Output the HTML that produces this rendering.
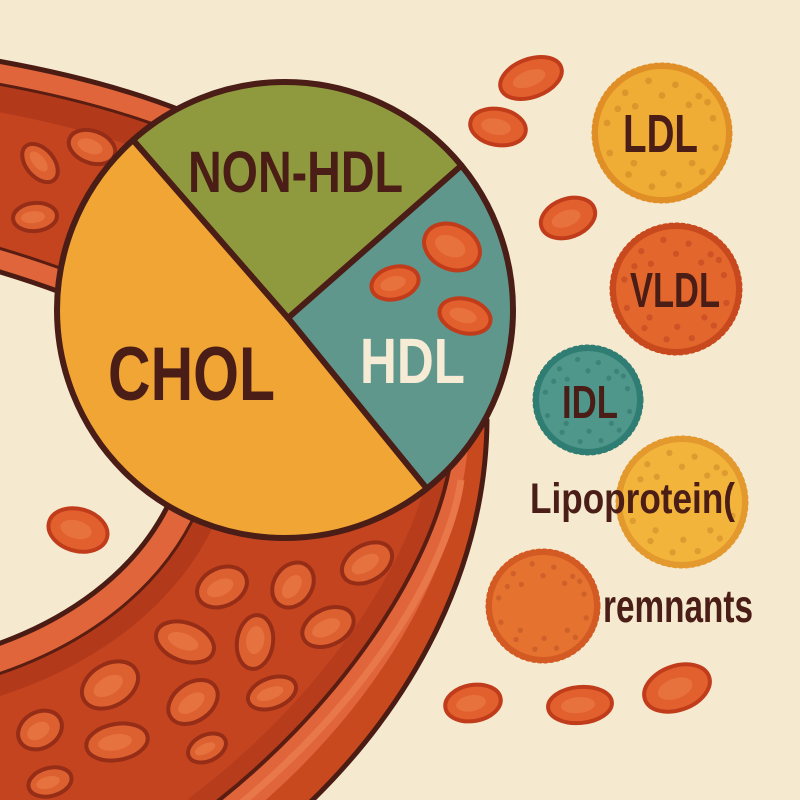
<!DOCTYPE html>
<html>
<head>
<meta charset="utf-8">
<style>
html,body{margin:0;padding:0;background:#f5e9cf;}
svg{display:block;}
text{font-family:"Liberation Sans",Arial,sans-serif;font-weight:bold;}
</style>
</head>
<body>
<svg width="800" height="800" viewBox="0 0 800 800" xmlns="http://www.w3.org/2000/svg">
<defs>
  <clipPath id="vc">
    <path d="M -20,58 Q 100,78 185,112 L 420,300 L 487,420 C 486,560 420,700 300,812 L -20,812 L -20,650 C 60,625 140,575 175,490 C 200,400 150,310 60,292 Q 25,279 -20,266 Z"/>
  </clipPath>
  <g id="dots">
    <circle cx="-55" cy="-60" r="5"/><circle cx="-20" cy="-78" r="5"/><circle cx="20" cy="-72" r="5"/>
    <circle cx="55" cy="-55" r="5"/><circle cx="76" cy="-22" r="5"/><circle cx="80" cy="22" r="5"/>
    <circle cx="60" cy="58" r="5"/><circle cx="25" cy="78" r="5"/><circle cx="-15" cy="80" r="5"/>
    <circle cx="-50" cy="62" r="5"/><circle cx="-78" cy="30" r="5"/><circle cx="-82" cy="-15" r="5"/>
    <circle cx="-40" cy="-40" r="5"/><circle cx="40" cy="-42" r="5"/><circle cx="45" cy="45" r="5"/>
    <circle cx="-42" cy="45" r="5"/><circle cx="0" cy="-56" r="5"/><circle cx="2" cy="60" r="5"/>
    <circle cx="-66" cy="-36" r="5"/><circle cx="68" cy="-46" r="5"/>
  </g>
</defs>

<rect width="800" height="800" fill="#f5e9cf"/>

<!-- ===== Blood vessel ===== -->
<path d="M -20,58 Q 100,78 185,112 L 420,300 L 487,420 C 486,560 420,700 300,812 L -20,812 L -20,650 C 60,625 140,575 175,490 C 200,400 150,310 60,292 Q 25,279 -20,266 Z" fill="#c4441f"/>
<g clip-path="url(#vc)">
  <!-- shading -->
  <path d="M -20,58 Q 100,78 185,112 L 300,200" fill="none" stroke="#b3391b" stroke-width="100"/>
  <path d="M -20,650 C 60,625 140,575 175,490" fill="none" stroke="#b3391b" stroke-width="100"/>
  <path d="M 449,470 C 430,570 340,710 200,815" fill="none" stroke="#b63c1c" stroke-width="40"/>

  <!-- RBCs inside vessel -->
  <g stroke="#962d17" stroke-width="4" fill="#dd6130">
    <g transform="translate(40,163) rotate(50)"><ellipse rx="22" ry="14"/><ellipse rx="12" ry="6" cx="-2" fill="#e6733f" stroke="none"/></g>
    <g transform="translate(92,147) rotate(20)"><ellipse rx="24" ry="16"/><ellipse rx="13" ry="7" cx="-2" fill="#e6733f" stroke="none"/></g>
    <g transform="translate(35,217) rotate(-5)"><ellipse rx="22" ry="14"/><ellipse rx="12" ry="6" cx="-2" fill="#e6733f" stroke="none"/></g>
    <g transform="translate(222,587) rotate(-25)"><ellipse rx="26" ry="19"/><ellipse rx="14" ry="8" cx="-2" fill="#e6733f" stroke="none"/></g>
    <g transform="translate(293,585) rotate(-55)"><ellipse rx="24" ry="19"/><ellipse rx="13" ry="8" cx="-2" fill="#e6733f" stroke="none"/></g>
    <g transform="translate(367,563) rotate(-30)"><ellipse rx="27" ry="18"/><ellipse rx="15" ry="8" cx="-2" fill="#e6733f" stroke="none"/></g>
    <g transform="translate(185,642) rotate(20)"><ellipse rx="30" ry="19"/><ellipse rx="16" ry="8" cx="-2" fill="#e6733f" stroke="none"/></g>
    <g transform="translate(255,642) rotate(8)"><ellipse rx="18" ry="27"/><ellipse rx="9" ry="14" cy="-2" fill="#e6733f" stroke="none"/></g>
    <g transform="translate(328,627) rotate(-25)"><ellipse rx="27" ry="18"/><ellipse rx="15" ry="8" cx="-2" fill="#e6733f" stroke="none"/></g>
    <g transform="translate(110,685) rotate(-30)"><ellipse rx="30" ry="21"/><ellipse rx="16" ry="9" cx="-2" fill="#e6733f" stroke="none"/></g>
    <g transform="translate(193,702) rotate(-35)"><ellipse rx="27" ry="19"/><ellipse rx="15" ry="8" cx="-2" fill="#e6733f" stroke="none"/></g>
    <g transform="translate(272,693) rotate(-20)"><ellipse rx="25" ry="15"/><ellipse rx="14" ry="6" cx="-2" fill="#e6733f" stroke="none"/></g>
    <g transform="translate(40,730) rotate(-30)"><ellipse rx="23" ry="18"/><ellipse rx="12" ry="8" cx="-2" fill="#e6733f" stroke="none"/></g>
    <g transform="translate(117,742) rotate(-10)"><ellipse rx="31" ry="18"/><ellipse rx="17" ry="8" cx="-2" fill="#e6733f" stroke="none"/></g>
    <g transform="translate(207,748) rotate(-25)"><ellipse rx="20" ry="13"/><ellipse rx="11" ry="5" cx="-2" fill="#e6733f" stroke="none"/></g>
    <g transform="translate(50,782) rotate(-15)"><ellipse rx="22" ry="14"/><ellipse rx="12" ry="6" cx="-2" fill="#e6733f" stroke="none"/></g>
  </g>

  <!-- right outer wall: red outer band, orange inner band -->
  <path d="M 487,420 C 486,560 420,700 300,812 L 200,815 C 340,710 430,570 449,470 L 440,400 Z" fill="#c9491f"/>
  <path d="M 468,445 C 458,565 380,705 250,813.5 L 200,815 C 340,710 430,570 449,470 L 440,400 Z" fill="#e0653a"/>
  <path d="M 461,480 C 448,570 365,705 228,814" fill="none" stroke="#e8784a" stroke-width="7"/>
  <path d="M 449,470 C 430,570 340,710 200,815" fill="none" stroke="#5a1d12" stroke-width="4"/>

  <!-- top-left outer wall -->
  <path d="M -20,58 Q 100,78 185,112 L 300,200" fill="none" stroke="#5a1d12" stroke-width="48"/>
  <path d="M -20,58 Q 100,78 185,112 L 300,200" fill="none" stroke="#e0653a" stroke-width="42"/>
  <!-- top-left inner wall -->
  <path d="M 120,305 L 60,292 Q 25,279 -20,266" fill="none" stroke="#5a1d12" stroke-width="48"/>
  <path d="M 120,305 L 60,292 Q 25,279 -20,266" fill="none" stroke="#e0653a" stroke-width="42"/>
  <!-- bottom inner wall -->
  <path d="M -20,650 C 60,625 140,575 175,490" fill="none" stroke="#5a1d12" stroke-width="60"/>
  <path d="M -20,650 C 60,625 140,575 175,490" fill="none" stroke="#e0653a" stroke-width="54"/>
</g>
<path d="M -20,58 Q 100,78 185,112 L 420,300 L 487,420 C 486,560 420,700 300,812 L -20,812 L -20,650 C 60,625 140,575 175,490 C 200,400 150,310 60,292 Q 25,279 -20,266 Z" fill="none" stroke="#4b1c14" stroke-width="5"/>

<!-- ===== Pie ===== -->
<path d="M 288,318 L 133,140 A 228 228 0 0 1 461.4,165.5 Z" fill="#8f9a3e"/>
<path d="M 288,318 L 461.4,165.5 A 228 228 0 0 1 426.8,488.5 Z" fill="#5f978c"/>
<path d="M 288,318 L 426.8,488.5 A 228 228 0 0 1 133,140 Z" fill="#f0a534"/>
<g stroke="#4a1d16" stroke-width="6" stroke-linecap="round" fill="none">
  <line x1="288" y1="318" x2="133" y2="140"/>
  <line x1="288" y1="318" x2="461.4" y2="165.5"/>
  <line x1="288" y1="318" x2="426.8" y2="488.5"/>
  <circle cx="285" cy="310" r="228"/>
</g>

<!-- ===== Free RBCs ===== -->
<g stroke="#c13c1b" stroke-width="4" fill="#e2602e">
  <g transform="translate(78,530) rotate(15)"><ellipse rx="30" ry="21"/><ellipse rx="16" ry="9" cx="-2" fill="#e8723e" stroke="none"/></g>
  <g transform="translate(531,78) rotate(-20)"><ellipse rx="32" ry="19"/><ellipse rx="17" ry="8" cx="-2" fill="#e8723e" stroke="none"/></g>
  <g transform="translate(498,127) rotate(10)"><ellipse rx="28" ry="18"/><ellipse rx="15" ry="8" cx="-2" fill="#e8723e" stroke="none"/></g>
  <g transform="translate(568,218) rotate(-20)"><ellipse rx="28" ry="19"/><ellipse rx="15" ry="8" cx="-2" fill="#e8723e" stroke="none"/></g>
  <g transform="translate(452,247) rotate(25)"><ellipse rx="29" ry="22"/><ellipse rx="16" ry="10" cx="-2" fill="#e8723e" stroke="none"/></g>
  <g transform="translate(395,283) rotate(-15)"><ellipse rx="24" ry="16"/><ellipse rx="13" ry="7" cx="-2" fill="#e8723e" stroke="none"/></g>
  <g transform="translate(465,316) rotate(15)"><ellipse rx="26" ry="17"/><ellipse rx="14" ry="7" cx="-2" fill="#e8723e" stroke="none"/></g>
  <g transform="translate(473,703) rotate(-10)"><ellipse rx="28" ry="18"/><ellipse rx="15" ry="8" cx="-2" fill="#e8723e" stroke="none"/></g>
  <g transform="translate(580,705) rotate(-5)"><ellipse rx="32" ry="18"/><ellipse rx="17" ry="8" cx="-2" fill="#e8723e" stroke="none"/></g>
  <g transform="translate(677,688) rotate(-20)"><ellipse rx="34" ry="22"/><ellipse rx="18" ry="10" cx="-2" fill="#e8723e" stroke="none"/></g>
</g>

<!-- ===== Lipoproteins ===== -->
<g transform="translate(662,133)">
  <circle r="67" fill="#f0ad35" stroke="#e08f27" stroke-width="6"/>
  <circle r="69" fill="none" stroke="#e08f27" stroke-width="3" stroke-dasharray="2.5 3.5" stroke-linecap="round"/>
  <use href="#dots" fill="#dc962c" transform="scale(0.67)"/>
</g>
<g transform="translate(676,289)">
  <circle r="63" fill="#e3662c" stroke="#c9491f" stroke-width="6"/>
  <circle r="65" fill="none" stroke="#c9491f" stroke-width="3" stroke-dasharray="2.5 3.5" stroke-linecap="round"/>
  <use href="#dots" fill="#cd5326" transform="scale(0.63)"/>
</g>
<g transform="translate(588,400)">
  <circle r="52" fill="#4f968b" stroke="#2f7d73" stroke-width="6"/>
  <circle r="54" fill="none" stroke="#2f7d73" stroke-width="3" stroke-dasharray="2.5 3.5" stroke-linecap="round"/>
  <use href="#dots" fill="#3e8378" transform="scale(0.52)"/>
</g>
<g transform="translate(682,502)">
  <circle r="63" fill="#f2b43a" stroke="#e3992d" stroke-width="6"/>
  <circle r="65" fill="none" stroke="#e3992d" stroke-width="3" stroke-dasharray="2.5 3.5" stroke-linecap="round"/>
  <use href="#dots" fill="#de9c30" transform="scale(0.63)"/>
</g>
<g transform="translate(543,606)">
  <circle r="54" fill="#e5732f" stroke="#d45a24" stroke-width="6"/>
  <circle r="56" fill="none" stroke="#d45a24" stroke-width="3" stroke-dasharray="2.5 3.5" stroke-linecap="round"/>
  <use href="#dots" fill="#d0602a" transform="scale(0.54)"/>
</g>

<!-- ===== Labels ===== -->
<g fill="#4a1d16">
  <text x="188" y="192" font-size="58" textLength="215" lengthAdjust="spacingAndGlyphs">NON-HDL</text>
  <text x="108" y="400" font-size="76" textLength="167" lengthAdjust="spacingAndGlyphs">CHOL</text>
  <text x="623" y="152" font-size="54" textLength="75" lengthAdjust="spacingAndGlyphs">LDL</text>
  <text x="630" y="307" font-size="49" textLength="90" lengthAdjust="spacingAndGlyphs">VLDL</text>
  <text x="562" y="418" font-size="46" textLength="56" lengthAdjust="spacingAndGlyphs">IDL</text>
  <text x="530" y="513" font-size="43" textLength="205" lengthAdjust="spacingAndGlyphs">Lipoprotein(</text>
  <text x="603" y="622" font-size="46" textLength="150" lengthAdjust="spacingAndGlyphs">remnants</text>
</g>
<text x="360" y="383" font-size="64" textLength="105" lengthAdjust="spacingAndGlyphs" fill="#f6ebd4">HDL</text>
</svg>
</body>
</html>
